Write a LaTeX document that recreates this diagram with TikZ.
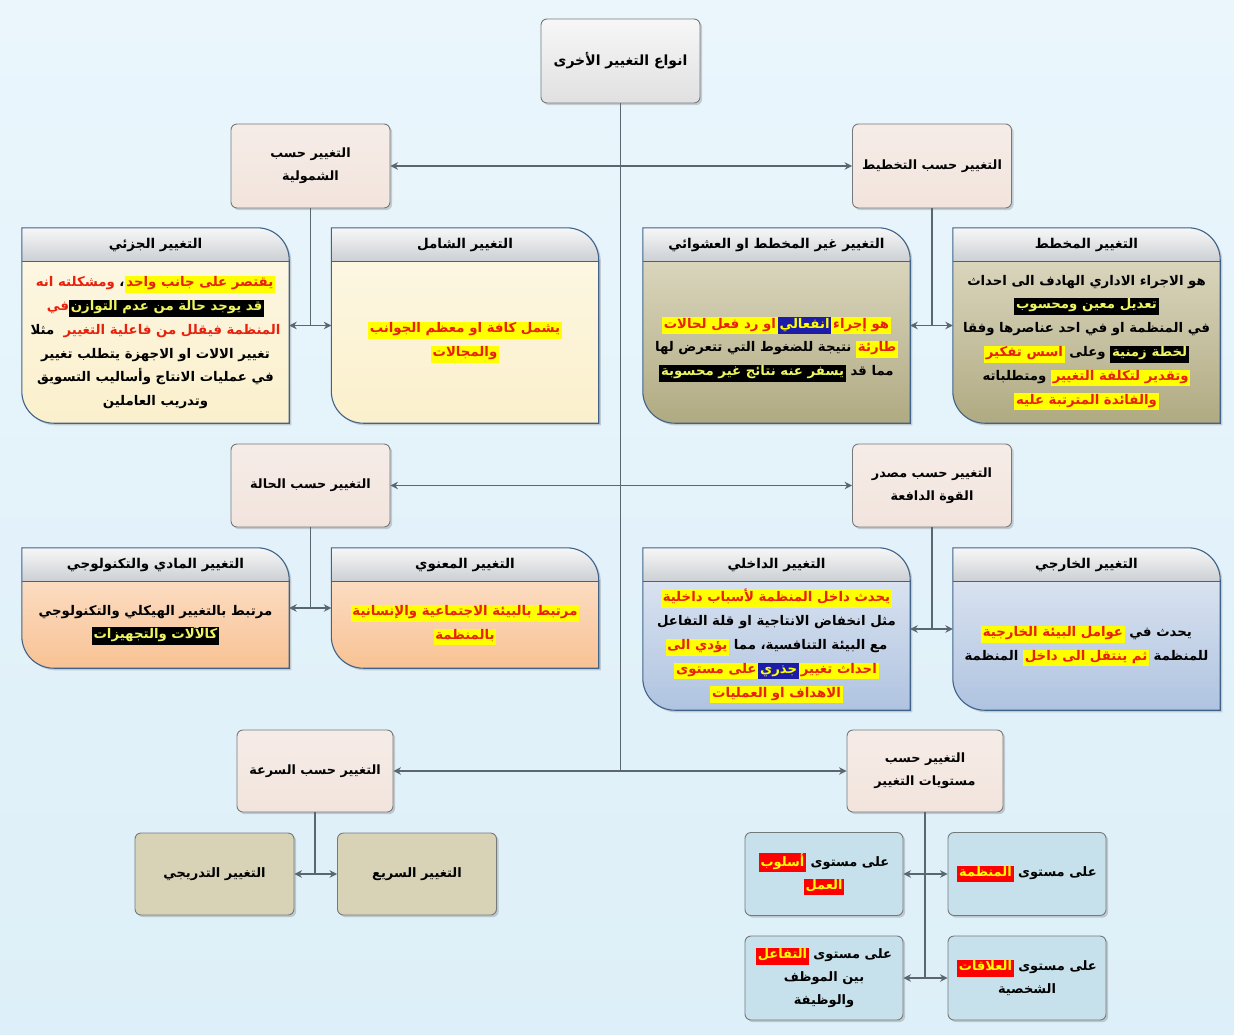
\documentclass[tikz,border=0pt]{standalone}
\usepackage{fontspec}
\usepackage{xcolor}
\usetikzlibrary{arrows.meta,shadows}
\TeXXeTstate=1
\newfontfamily\ar[Script=Arabic]{DejaVu Sans}
\definecolor{bgtop}{HTML}{EAF6FC}
\definecolor{bgbot}{HTML}{DDEFF8}
\definecolor{conn}{HTML}{5A6670}
\definecolor{pborder}{HTML}{3F638A}
\definecolor{hdtop}{HTML}{F7F7F7}
\definecolor{hdbot}{HTML}{CBCFD3}
\definecolor{yeltop}{HTML}{FDF8E6}
\definecolor{yelbot}{HTML}{FBF0CC}
\definecolor{olvtop}{HTML}{E2DEC8}
\definecolor{olvbot}{HTML}{B0AA82}
\definecolor{pchtop}{HTML}{FDE6D2}
\definecolor{pchbot}{HTML}{F8C294}
\definecolor{blutop}{HTML}{E3EAF4}
\definecolor{blubot}{HTML}{AFC3E0}
\definecolor{rootf}{HTML}{EBEBEB}
\definecolor{catf}{HTML}{F2E4DD}
\definecolor{khaki}{HTML}{D8D3B7}
\definecolor{lblue}{HTML}{C6E1EB}
\definecolor{boxb}{HTML}{75797C}
\definecolor{hly}{HTML}{FFFF00}
\definecolor{hlred}{HTML}{E8200C}
\definecolor{hlbt}{HTML}{EEF560}
\definecolor{hlblue}{HTML}{1C1CA8}
\definecolor{redbg}{HTML}{FF0000}
\newcommand\hstrut{\rule[-5.5pt]{0pt}{14.8pt}}
% each line is written in visual order, left to right; each run is RTL
\newcommand\LN[1]{\beginR#1\endR}
\newcommand\HL[3]{{\fboxsep=0.6pt\colorbox{#1}{\kern1.2pt\hstrut{\color{#2}\beginR#3\endR}\kern1.2pt}}}
\newcommand\HY[1]{\HL{hly}{hlred}{#1}}
\newcommand\HB[1]{\HL{black}{hlbt}{#1}}
\newcommand\HU[1]{\HL{hlblue}{hly}{#1}}
\newcommand\HR[1]{\HL{redbg}{hly}{#1}}
\newcommand\RD[1]{{\color{hlred}\beginR#1\endR}}
\newcommand\bshift{0pt}
\newcommand\ppath[1]{(#1.north west) -- ([xshift=-32pt]#1.north east) .. controls ([xshift=-14.3pt]#1.north east) and ([yshift=-14.3pt]#1.north east) .. ([yshift=-32pt]#1.north east) -- (#1.south east) -- ([xshift=32pt]#1.south west) .. controls ([xshift=14.3pt]#1.south west) and ([yshift=14.3pt]#1.south west) .. ([yshift=32pt]#1.south west) -- cycle}
\newcommand\panel[8]{%
  \node[panelarea, minimum height=#4] (#1) at (#2,#3) {};
  \path[top color=#5, bottom color=#6, drop shadow={opacity=.35}] \ppath{#1};
  \begin{scope}
    \clip \ppath{#1};
    \shade[top color=hdtop, bottom color=hdbot] (#1.north west) rectangle ([yshift=-34pt]#1.north east);
  \end{scope}
  \draw[pborder, line width=1.1pt] ([yshift=-34pt]#1.north west) -- ([yshift=-34pt]#1.north east);
  \draw[pborder, line width=1.1pt] \ppath{#1};
  \node[hdtext] at ([yshift=-17pt]#1.north) {#7};
  \node[bodytext] at ([yshift={-17pt-\bshift}]#1.center) {#8};
}
\tikzset{
  panelarea/.style={minimum width=267, inner sep=0pt},
  hdtext/.style={font=\ar\bfseries\fontsize{13.5}{16}\selectfont},
  bodytext/.style={align=center, inner sep=0pt, font=\ar\bfseries\fontsize{13.3}{23.8}\selectfont},
  sbox/.style={draw=boxb, line width=0.9pt, rounded corners=6pt, minimum width=159, minimum height=84, align=center, inner sep=2pt, drop shadow={opacity=.35}, font=\ar\bfseries\fontsize{12.8}{23}\selectfont},
  rootbox/.style={sbox, top color=white!60!rootf, bottom color=rootf!90!gray, font=\ar\bfseries\fontsize{14}{23}\selectfont},
  catbox/.style={sbox, top color=catf!70!white, bottom color=catf},
  khbox/.style={sbox, fill=khaki, minimum height=82, font=\ar\bfseries\fontsize{13}{23}\selectfont},
  lbbox/.style={sbox, fill=lblue, minimum width=158, minimum height=83, font=\ar\bfseries\fontsize{13}{23}\selectfont},
  link/.style={draw=conn, line width=1.4pt},
  arr/.style={link, {Stealth[length=7.5pt,width=7.5pt]}-{Stealth[length=7.5pt,width=7.5pt]}}
}
\begin{document}
\begin{tikzpicture}[x=1pt,y=-1pt]
\useasboundingbox (0,0) rectangle (1234,1034);
\shade[top color=bgtop, bottom color=bgbot] (0,0) rectangle (1234,1034);

% root and trunk
\node[rootbox] (root) at (620.5,61) {\LN{انواع التغيير الأخرى}};
\coordinate (trunk) at (620.5,771);

% category boxes
\node[catbox] (shoml) at (310.5,166) {\LN{التغيير حسب}\\\LN{الشمولية}};
\node[catbox] (takh) at (932,166) {\LN{التغيير حسب التخطيط}};
\node[catbox, minimum height=83] (hala) at (310.5,485.5) {\LN{التغيير حسب الحالة}};
\node[catbox, minimum height=83] (masdar) at (932,485.5) {\LN{التغيير حسب مصدر}\\\LN{القوة الدافعة}};
\node[catbox, minimum width=156, minimum height=82] (sura) at (315,771) {\LN{التغيير حسب السرعة}};
\node[catbox, minimum width=156, minimum height=82] (must) at (925,771) {\LN{التغيير حسب}\\\LN{مستويات التغيير}};

% panels row 1
\panel{jz}{155.5}{325.5}{195}{yeltop}{yelbot}{\LN{التغيير الجزئي}}{%
\RD{ومشكلته انه} \LN{،}\HY{يقتصر على جانب واحد}\\
\RD{في}\HB{قد يوجد حالة من عدم التوازن}\\
\LN{مثلا}\ \ \RD{المنظمة فيقلل من فاعلية التغيير}\\
\LN{تغيير الالات  او الاجهزة يتطلب تغيير}\\
\LN{في عمليات الانتاج وأساليب التسويق}\\
\LN{وتدريب العاملين}}
\panel{sh}{465}{325.5}{195}{yeltop}{yelbot}{\LN{التغيير الشامل}}{%
\HY{يشمل كافة  او معظم الجوانب}\\
\HY{والمجالات}}
\renewcommand\bshift{7pt}
\panel{ghm}{776.5}{325.5}{195}{olvtop}{olvbot}{\LN{التغيير غير المخطط او العشوائي}}{%
\HY{او رد فعل لحالات}\HU{انفعالي}\HY{هو إجراء}\\
\LN{نتيجة للضغوط التي تتعرض لها} \HY{طارئة}\\
\HB{يسفر عنه نتائج غير محسوبة} \LN{مما قد}}
\renewcommand\bshift{0pt}
\panel{mkh}{1086.5}{325.5}{195}{olvtop}{olvbot}{\LN{التغيير المخطط}}{%
\LN{هو الاجراء الاداري  الهادف الى احداث}\\
\HB{تعديل معين ومحسوب}\\
\LN{في المنظمة او في احد عناصرها وفقا}\\
\HY{اسس تفكير} \LN{وعلى} \HB{لخطة زمنية}\\
\LN{ومتطلباته} \HY{وتقدير لتكلفة  التغيير}\\
\HY{والفائدة المترتبة عليه}}

% panels row 2
\panel{madi}{155.5}{608}{120}{pchtop}{pchbot}{\LN{التغيير المادي والتكنولوجي}}{%
\LN{مرتبط بالتغيير الهيكلي والتكنولوجي}\\
\HB{كالآلات والتجهيزات}}
\panel{manawi}{465}{608}{120}{pchtop}{pchbot}{\LN{التغيير المعنوي}}{%
\HY{مرتبط بالبيئة الاجتماعية والإنسانية}\\
\HY{بالمنظمة}}
\panel{dakh}{776.5}{629}{162}{blutop}{blubot}{\LN{التغيير الداخلي}}{%
\HY{يحدث داخل المنظمة لأسباب داخلية}\\
\LN{مثل انخفاض الانتاجية او قلة التفاعل}\\
\HY{يؤدي الى} \LN{مع البيئة التنافسية، مما}\\
\HY{على مستوى}\HU{جذري}\HY{احداث تغيير}\\
\HY{الاهداف او العمليات}}
\panel{khar}{1086.5}{629}{162}{blutop}{blubot}{\LN{التغيير الخارجي}}{%
\HY{عوامل البيئة الخارجية} \LN{يحدث في}\\
\LN{المنظمة} \HY{ثم ينتقل الى داخل} \LN{للمنظمة}}

% bottom boxes
\node[khbox] (tadr) at (214.5,874) {\LN{التغيير التدريجي}};
\node[khbox] (sari) at (417,874) {\LN{التغيير السريع}};
\node[lbbox] (uslub) at (824,874) {\HR{أسلوب} \LN{على مستوى}\\\HR{العمل}};
\node[lbbox] (munz) at (1027,874) {\HR{المنظمة} \LN{على مستوى}};
\node[lbbox, minimum height=84] (tafa) at (824,978) {\HR{التفاعل} \LN{على مستوى}\\\LN{بين الموظف}\\\LN{والوظيفة}};
\node[lbbox, minimum height=84] (alaq) at (1027,978) {\HR{العلاقات} \LN{على مستوى}\\\LN{الشخصية}};

% connectors
\draw[link] (root.south) -- (trunk);
\draw[arr] (shoml.east) -- (takh.west);
\draw[arr] (hala.east) -- (masdar.west);
\draw[arr] (sura.east) -- (must.west);
\draw[link] (shoml.south) -- (shoml.south |- jz.east);
\draw[arr] (jz.east) -- (sh.west);
\draw[link] (takh.south) -- (takh.south |- ghm.east);
\draw[arr] (ghm.east) -- (mkh.west);
\draw[link] (hala.south) -- (hala.south |- madi.east);
\draw[arr] (madi.east) -- (manawi.west);
\draw[link] (masdar.south) -- (masdar.south |- dakh.east);
\draw[arr] (dakh.east) -- (khar.west);
\draw[link] (sura.south) -- (sura.south |- tadr.east);
\draw[arr] (tadr.east) -- (sari.west);
\draw[link] (must.south) -- (must.south |- tafa.east);
\draw[arr] (uslub.east) -- (munz.west);
\draw[arr] (tafa.east) -- (alaq.west);
\end{tikzpicture}
\end{document}
